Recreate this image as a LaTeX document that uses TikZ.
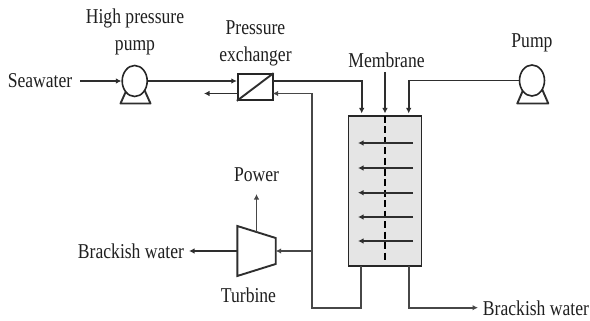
\documentclass[tikz,border=0pt]{standalone}
\usepackage{fontspec}
\setmainfont{Liberation Serif}
\usepackage{graphicx}
\usetikzlibrary{arrows.meta,shapes.geometric}
\newcommand{\tallbox}[1]{\scalebox{1}[1.2]{#1}}
\newcommand{\twolines}[2]{\tallbox{\begin{tabular}[t]{@{}c@{}}#1\\#2\end{tabular}}}
\tikzset{
  ln/.style={line width=1.9pt,draw=black!82},
  gl/.style={line width=1.9pt,draw=black!72},
  arr/.style={-{Latex[length=5.5pt,width=5.5pt]}},
  lbl/.style={inner sep=0pt,anchor=base,font=\fontsize{17.6}{21.7}\selectfont,text=black!88},
  pumpc/.style={ellipse,draw=black!85,line width=1.6pt,fill=white,inner sep=0pt,minimum width=25pt,minimum height=31pt},
  boxn/.style={rectangle,draw=black!85,line width=1.7pt,inner sep=0pt},
}
\begin{document}
\begin{tikzpicture}[x=1pt,y=-1pt]
\useasboundingbox (0,0) rectangle (590,321);
% membrane vessel
\node[boxn,fill=black!10,minimum width=73pt,minimum height=150pt] (vessel) at (385,191) {};
% pumps
\draw[ln,line join=round] (120.5,103.5) -- (150.5,103.5) -- (144,89) -- (127,89) -- cycle;
\node[pumpc] (hpp) at (134.7,81) {};
\draw[ln,line join=round] (517.3,103.5) -- (548.3,103.5) -- (542,89) -- (523.5,89) -- cycle;
\node[pumpc] (pump) at (532,80.5) {};
% exchanger
\node[boxn,fill=white,minimum width=35pt,minimum height=26pt] (px) at (255.2,87) {};
\draw[ln] (px.south west) -- (px.north east);
% turbine
\coordinate (t1) at (237.3,226);
\coordinate (t2) at (275.7,238);
\coordinate (t3) at (275.7,264);
\coordinate (t4) at (237.3,276);
\draw[ln,fill=white,line join=miter] (t1) -- (t2) -- (t3) -- (t4) -- cycle;
\coordinate (turbL) at (237.3,251);
\coordinate (turbR) at (275.7,251);
\coordinate (turbT) at (256.5,232);
% labels
\node[lbl] (sea) at (40,88) {\tallbox{Seawater}};
\node[lbl] (hpl) at (135,24) {\twolines{High pressure}{pump}};
\node[lbl] (pxl) at (255.5,35) {\twolines{Pressure}{exchanger}};
\node[lbl] (ml) at (386.5,68) {\tallbox{Membrane}};
\node[lbl] (pl) at (532,48) {\tallbox{Pump}};
\node[lbl] (pw) at (256.5,182) {\tallbox{Power}};
\node[lbl] (tl) at (248.5,302) {\tallbox{Turbine}};
\node[lbl] (bl) at (131,258) {\tallbox{Brackish water}};
\node[lbl] (br) at (536,315) {\tallbox{Brackish water}};
% connectors
\coordinate (seaS) at (80,81);
\draw[ln,arr] (seaS) -- (hpp.west);
\draw[ln,arr] (hpp.east) -- (px.west |- hpp.east);
\coordinate (pxo) at (272.7,81);
\coordinate (in1c) at (361.7,81);
\coordinate (in1) at (361.7,113.5);
\draw[ln,arr] (pxo) -- (in1c) -- (in1);
\coordinate (pxr2) at (272.7,93.5);
\coordinate (cJ) at (312,93.5);
\coordinate (cB) at (312,307.7);
\coordinate (cD) at (361,307.7);
\coordinate (vB1) at (361,265.7);
\draw[gl,arr] (cJ) -- (pxr2);
\draw[gl] (cJ) -- (cB) -- (cD) -- (vB1);
\coordinate (cT) at (312,251);
\draw[gl,arr] (cT) -- (turbR);
\coordinate (pxl2) at (237.7,93.5);
\coordinate (pxl3) at (204,93.5);
\draw[ln,arr] (pxl2) -- (pxl3);
\coordinate (powT) at (256.5,194);
\draw[gl,arr] (turbT) -- (powT);
\coordinate (brT) at (189,251);
\draw[ln,arr] (turbL) -- (brT);
\coordinate (vB2) at (409,265.7);
\coordinate (oB) at (409,307.7);
\coordinate (oE) at (478,307.7);
\draw[gl,arr] (vB2) -- (oB) -- (oE);
\coordinate (pC) at (408.7,80.5);
\coordinate (pE) at (408.7,113.5);
\draw[ln,arr] (pump.west) -- (pC) -- (pE);
\coordinate (mT) at (385,72);
\coordinate (mB) at (385,113.5);
\draw[ln,arr] (mT) -- (mB);
\coordinate (dT) at (385,116);
\coordinate (dB) at (385,263);
\draw[line width=2pt,black,dash pattern=on 7pt off 3.5pt] (dT) -- (dB);
\foreach \y in {143,168,192.7,217,241}{
  \coordinate (a) at (413,\y);
  \coordinate (b) at (358,\y);
  \draw[ln,arr] (a) -- (b);
}
\end{tikzpicture}
\end{document}
